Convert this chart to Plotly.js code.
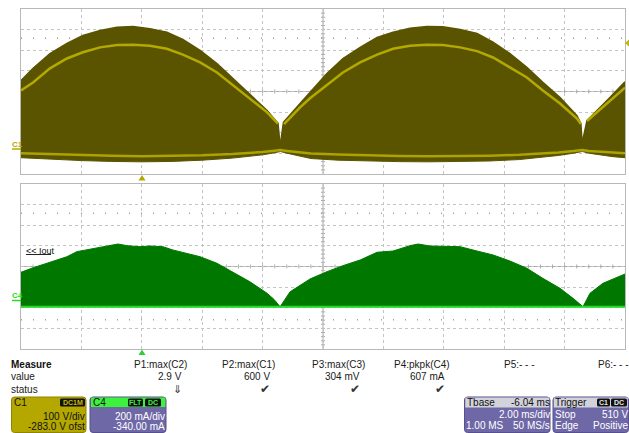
<!DOCTYPE html>
<html><head><meta charset="utf-8">
<script src="https://cdn.plot.ly/plotly-3.0.1.min.js"></script>
<style>body{margin:0;background:#fff}#c{width:629px;height:433px}</style>
</head><body><div id="c"></div>
<script>
// ---- C1 (voltage, V) upper envelope of the switching band ----
const tUpper = [0.00,0.40,0.96,1.52,2.05,2.62,3.18,3.71,4.27,4.83,5.36,5.93,6.49,7.02,7.58,8.15,8.51,8.56,8.59,8.62,8.69,9.24,9.57,10.13,10.66,11.23,11.79,12.32,12.88,13.44,13.97,14.54,15.10,15.63,16.19,16.75,17.28,17.85,18.41,18.54,18.57,18.59,18.62,18.74,19.50,20.00];
const vUpper = [336,395,467,516,555,579,595,598,587,571,535,482,419,346,273,191,129,70,6,60,134,225,280,370,443,497,545,570,590,598,597,584,565,522,467,400,327,254,166,127,60,6,60,142,254,330];
// ---- C1 bright inner trace ----
const tInner = [0.00,0.40,0.96,1.52,2.05,2.62,3.18,3.71,4.27,4.83,5.36,5.93,6.49,7.02,7.58,8.15,8.51,null,8.71,9.24,9.57,10.13,10.66,11.23,11.79,12.32,12.88,13.44,13.97,14.54,15.10,15.63,16.19,16.75,17.28,17.85,18.41,18.54,null,18.74,19.50,20.00];
const vInner = [288,327,395,443,473,497,508,510,505,490,462,424,375,312,249,182,127,null,125,206,250,312,375,424,462,490,505,510,508,497,479,448,400,351,288,225,152,125,null,140,239,302];
// ---- C1 lower envelope and bright lower trace ----
const tLower = [0,1,2,3,4,5,6,7,7.5,8,8.4,8.59,8.8,9.2,9.6,10.5,11.5,12.5,13.5,14.5,15.5,16.5,17.2,17.8,18.3,18.59,18.8,19.2,19.6,20];
const vLower = [-38,-46,-52,-56,-58,-56,-50,-40,-33,-24,-14,-8,-16,-30,-42,-50,-55,-57,-58,-57,-54,-47,-38,-27,-16,-8,-16,-26,-33,-38];
const vBright = [-17,-22,-26,-29,-31,-30,-26,-20,-16,-10,-4,-1,-5,-11,-18,-23,-27,-30,-31,-30,-28,-24,-19,-13,-6,-1,-5,-10,-14,-17];
// ---- C4 (current, A) ----
const tCur = [0.00,0.40,0.96,1.52,1.85,2.38,2.95,3.21,3.51,3.94,4.27,4.70,5.03,5.50,5.93,6.49,7.02,7.58,8.15,8.38,8.58,8.91,9.57,10.13,10.66,11.23,11.79,12.32,12.88,13.15,13.54,13.97,14.54,15.10,15.63,16.19,16.75,17.28,17.85,18.28,18.61,18.84,19.27,20.00];
const iCur = [0.284,0.328,0.381,0.435,0.484,0.51,0.542,0.558,0.542,0.532,0.539,0.532,0.50,0.468,0.435,0.371,0.284,0.192,0.08,0.02,-0.05,0.095,0.219,0.29,0.348,0.403,0.478,0.49,0.542,0.558,0.539,0.539,0.532,0.49,0.452,0.393,0.323,0.225,0.128,0.031,-0.05,0.08,0.177,0.267];
const tBase = [0,20];
const iBase = [-0.05,-0.05];

// ---- text ----
const measHead = ['P1:max(C2)','P2:max(C1)','P3:max(C3)','P4:pkpk(C4)','P5:- - -','P6:- - -'];
const measVal  = ['2.9 V','600 V','304 mV','607 mA','',''];
const measStat = ['\u21D3','\u2714','\u2714','\u2714','',''];

const W=629,H=433;
const X=x=>x/W, Y=y=>1-y/H;
const FONT='Liberation Sans, Arial, DejaVu Sans, sans-serif';
const OLIVE='#5a5400', GRN='#007800', PURP='#6f68a6';

const traces = [
 {x:tLower,y:vLower,xaxis:'x',yaxis:'y',mode:'lines',line:{color:OLIVE,width:1}},
 {x:tUpper,y:vUpper,xaxis:'x',yaxis:'y',mode:'lines',fill:'tonexty',fillcolor:OLIVE,line:{color:OLIVE,width:1.5}},
 {x:tLower,y:vBright,xaxis:'x',yaxis:'y',mode:'lines',line:{color:'#aca200',width:2.5}},
 {x:tInner,y:vInner,xaxis:'x',yaxis:'y',mode:'lines',connectgaps:false,line:{color:'#b3a900',width:2.5}},
 {x:tBase,y:iBase,xaxis:'x2',yaxis:'y2',mode:'lines',line:{color:GRN,width:1}},
 {x:tCur,y:iCur,xaxis:'x2',yaxis:'y2',mode:'lines',fill:'tonexty',fillcolor:GRN,line:{color:GRN,width:1}},
 {x:tBase,y:iBase,xaxis:'x2',yaxis:'y2',mode:'lines',line:{color:'#22dd22',width:2}}
];

const gx={range:[0,20],dtick:2,tick0:0,showgrid:true,gridcolor:'#c4c4c4',griddash:'dot',gridwidth:1,zeroline:false,showticklabels:false,ticks:'',showline:true,mirror:true,linecolor:'#b8b8b8',linewidth:1,fixedrange:true};
const gy=Object.assign({},gx);

const shapes=[];
function seg(xr,yr,x0,y0,x1,y1,color,width,dash,layer){shapes.push({type:'line',xref:xr,yref:yr,x0,y0,x1,y1,line:{color,width,dash:dash||'solid'},layer:layer||'below'});}
// center lines with ticks
[['x','y',283,100,20.625],['x2','y2',0.34,0.2,20.625]].forEach(([xr,yr,c,div,pxd])=>{
  const h=2*div/pxd;
  seg(xr,yr,0,c,20,c,'#ababab',1);
  seg(xr,yr,10,c-4*div,10,c+4*div,'#ababab',1);
  for(let k=1;k<50;k++){const t=k*0.4; seg(xr,yr,t,c-h,t,c+h,'#ababab',1);}
  for(let k=-19;k<20;k++){const v=c+k*div/5; seg(xr,yr,10-2/30.2,v,10+2/30.2,v,'#ababab',1);}
  seg(xr,yr,0,c+2.58*div,20,c+2.58*div,'#a0a0a0',1.5,'1px,11px');
  seg(xr,yr,0,c-2.58*div,20,c-2.58*div,'#a0a0a0',1.5,'1px,11px');
});
// channel markers
seg('paper','paper',X(12),Y(149),X(21),Y(149),'#b4a800',1.5,null,'above');
seg('paper','paper',X(12),Y(300.5),X(21),Y(300.5),'#22dd22',1.5,null,'above');
seg('paper','paper',X(26),Y(254.5),X(51),Y(254.5),'#222',1,null,'above');
function poly(pts,color){shapes.push({type:'path',xref:'paper',yref:'paper',path:'M'+pts.map(p=>X(p[0])+','+Y(p[1])).join(' L')+' Z',fillcolor:color,line:{width:0},layer:'above'});}
poly([[142,175],[138.5,180.5],[145.5,180.5]],'#b4a800');
poly([[142,349.5],[138.5,355],[145.5,355]],'#33cc33');
poly([[625,43],[629,39.5],[629,46.5]],'#c2b800');
function rr(x0,y0,x1,y1,r,fill,lc){
 const p=`M${X(x0+r)},${Y(y0)} L${X(x1-r)},${Y(y0)} Q${X(x1)},${Y(y0)} ${X(x1)},${Y(y0+r)} L${X(x1)},${Y(y1-r)} Q${X(x1)},${Y(y1)} ${X(x1-r)},${Y(y1)} L${X(x0+r)},${Y(y1)} Q${X(x0)},${Y(y1)} ${X(x0)},${Y(y1-r)} L${X(x0)},${Y(y0+r)} Q${X(x0)},${Y(y0)} ${X(x0+r)},${Y(y0)} Z`;
 shapes.push({type:'path',xref:'paper',yref:'paper',path:p,fillcolor:fill,line:{color:lc||fill,width:lc?1:0},layer:'above'});
}
function rect(x0,y0,x1,y1,fill){shapes.push({type:'rect',xref:'paper',yref:'paper',x0:X(x0),y0:Y(y1),x1:X(x1),y1:Y(y0),fillcolor:fill,line:{width:0},layer:'above'});}
// boxes
rr(11.5,397,86,432.5,3,'#b3a700','#8e8400');
rr(60,398.5,85,406.5,1.5,'#111');
rr(90,397,166,432.5,3,PURP,'#57508e');
rect(91,397.6,165.4,407,'#3df23d');
rr(128,398.5,143,406.5,1.5,'#111');
rr(145,398.5,161,406.5,1.5,'#111');
rr(464.5,397,550,432.5,3,PURP,'#57508e');
rect(465.3,397.6,549.3,407.5,'#d2d2da');
rr(553,397,628.5,432.5,3,PURP,'#57508e');
rect(553.8,397.6,627.8,407.5,'#d2d2da');
rr(597,398.5,610,406.5,1.5,'#111');
rr(611,398.5,627,406.5,1.5,'#111');

const ann=[];
function A(text,x,y,anchor,size,color,bold,fam){ann.push({text:bold?'<b>'+text+'</b>':text,x:X(x),y:Y(y),xref:'paper',yref:'paper',xanchor:anchor,yanchor:'middle',showarrow:false,borderpad:0,borderwidth:0,font:{family:fam||FONT,size:size||10,color:color||'#1a1a1a'}});}
A('C1',12,144.5,'left',8,'#b4a800',true);
A('C4',12,295,'left',8,'#22dd22',true);
A('&lt;&lt; Iout',26,250.5,'left',9,'#111');
A('Measure',11,364,'left',10,'#111',true);
A('value',11,376.5,'left',10);
A('status',11,389,'left',10);
const colR=[187,275,365,450,535,628.5];
measHead.forEach((s,i)=>{A(s,colR[i],364,'right',10);});
measVal.forEach((s,i)=>{if(s)A(s,colR[i]-5,376.5,'right',10);});
measStat.forEach((s,i)=>{if(s)A(s,colR[i]-5,389,'right',i===0?11:12,'#333',false,'DejaVu Sans');});
// C1 box
A('C1',14,402.5,'left',10,'#111');
A('DC1M',72.5,402.8,'center',7,'#c8bb00',true);
A('100 V/div',85,416.5,'right',10,'#111');
A('-283.0 V ofst',85,426.5,'right',10,'#111');
// C4 box
A('C4',93,402.5,'left',10,'#111');
A('FLT',135.5,402.8,'center',7,'#3df23d',true);
A('DC',153,402.8,'center',7,'#3df23d',true);
A('200 mA/div',164.5,416.5,'right',10,'#fff');
A('-340.00 mA',164.5,426.5,'right',10,'#fff');
// Tbase
A('Tbase',467,402.5,'left',10,'#111');
A('-6.04 ms',549.5,402.5,'right',10,'#111');
A('2.00 ms/div',549.5,414.5,'right',10,'#fff');
A('1.00 MS',466,425,'left',10,'#fff');
A('50 MS/s',549.5,425,'right',10,'#fff');
// Trigger
A('Trigger',555,402.5,'left',10,'#111');
A('C1',603.5,402.8,'center',7,'#e8e8e8',true);
A('DC',619,402.8,'center',7,'#e8e8e8',true);
A('Stop',555,414.5,'left',10,'#fff');
A('510 V',627.5,414.5,'right',10,'#fff');
A('Edge',555,425,'left',10,'#fff');
A('Positive',627.5,425,'right',10,'#fff');

const layout={
 width:W,height:H,margin:{l:0,r:0,t:0,b:0},paper_bgcolor:'#fff',plot_bgcolor:'#fff',showlegend:false,
 xaxis:Object.assign({},gx,{domain:[X(21),X(625)],anchor:'y'}),
 xaxis2:Object.assign({},gx,{domain:[X(21),X(625)],anchor:'y2'}),
 yaxis:Object.assign({},gy,{range:[-117,683],dtick:100,tick0:283,domain:[Y(174),Y(9)],anchor:'x'}),
 yaxis2:Object.assign({},gy,{range:[-0.46,1.14],dtick:0.2,tick0:0.34,domain:[Y(349),Y(184)],anchor:'x2'}),
 shapes:shapes,annotations:ann
};
Plotly.newPlot('c',traces,layout,{staticPlot:true,displayModeBar:false});
</script></body></html>
